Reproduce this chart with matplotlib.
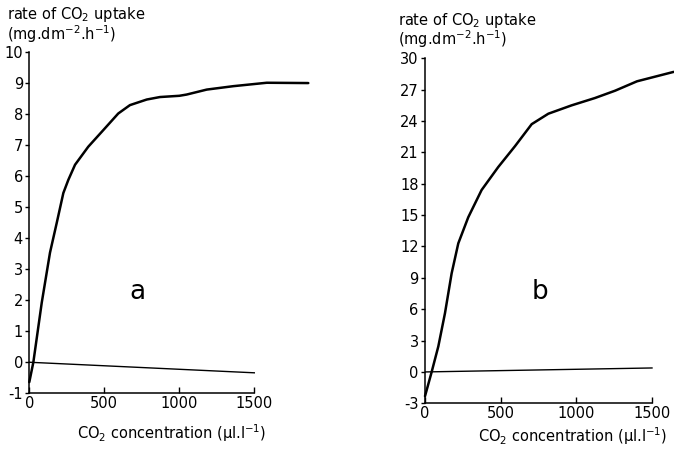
import matplotlib
matplotlib.use("Agg")
import matplotlib.pyplot as plt

# panel a: CO2 uptake vs CO2 concentration
conc_a = [0, 27, 83, 138, 183, 227, 260, 305, 393, 483, 593, 671, 783, 871,
          1000, 1049, 1183, 1360, 1583, 1860]
uptake_a = [-0.64, 0.0, 1.92, 3.53, 4.49, 5.45, 5.87, 6.36, 6.94, 7.42, 8.01,
            8.28, 8.46, 8.54, 8.58, 8.62, 8.78, 8.89, 9.0, 8.99]
zero_a_x = [0, 1500]
zero_a_y = [0.0, -0.34]

# panel b
conc_b = [0, 44, 88, 132, 176, 220, 286, 374, 484, 595, 705, 815, 969, 1123,
          1256, 1401, 1643]
uptake_b = [-2.32, 0.0, 2.44, 5.62, 9.43, 12.3, 14.8, 17.4, 19.6, 21.6, 23.7,
            24.7, 25.5, 26.2, 26.9, 27.8, 28.7]
zero_b_x = [0, 1500]
zero_b_y = [0.0, 0.38]

yticks_a = list(range(-1, 11))
yticks_b = list(range(-3, 31, 3))
xticks = [0, 500, 1000, 1500]

plt.rcParams.update({
    "font.family": "DejaVu Sans",
    "mathtext.default": "regular",
    "axes.unicode_minus": False,
    "font.size": 10.5,
})

W, H = 674, 449
fig = plt.figure(figsize=(W / 100, H / 100), dpi=100)

ax_a = fig.add_axes([29.3 / W, (H - 393.3) / H, 280.5 / W, 341.6 / H])
ax_b = fig.add_axes([425 / W, (H - 403.3) / H, 249.7 / W, 345 / H])

panels = [
    (ax_a, conc_a, uptake_a, zero_a_x, zero_a_y, yticks_a, (0, 1870), (-1, 10), "a",
     (0.384, 0.297), (0.509, -0.118)),
    (ax_b, conc_b, uptake_b, zero_b_x, zero_b_y, yticks_b, (0, 1650), (-3, 30), "b",
     (0.46, 0.323), (0.593, -0.095)),
]

for ax, xs, ys, zx, zy, yt, xl, yl, letter, lpos, xlpos in panels:
    ax.plot(xs, ys, color="black", lw=1.8, solid_capstyle="round",
            solid_joinstyle="round", clip_on=False)
    ax.plot(zx, zy, color="black", lw=1.0)
    ax.set_xlim(*xl)
    ax.set_ylim(*yl)
    ax.set_xticks(xticks)
    ax.set_yticks(yt)
    for s in ("top", "right"):
        ax.spines[s].set_visible(False)
    ax.spines["bottom"].set_bounds(0, 1500)
    ax.spines["left"].set_linewidth(1.1)
    ax.spines["bottom"].set_linewidth(1.1)
    ax.tick_params(axis="y", direction="out", length=3, width=1.0, pad=1.5,
                   labelsize=10.5)
    ax.tick_params(axis="x", direction="in", length=4, width=1.0, pad=2,
                   labelsize=10.5)
    ax.patch.set_visible(False)
    ax.text(*lpos, letter, transform=ax.transAxes, fontsize=19,
            ha="center", va="center")
    ax.text(*xlpos, "CO$_2$ concentration (µl.l$^{-1}$)", transform=ax.transAxes,
            fontsize=10.5, ha="center", va="center")

fig.text(7 / W, 1 - 5 / H, "rate of CO$_2$ uptake", ha="left", va="top",
         fontsize=10.5)
fig.text(7 / W, 1 - 23 / H, "(mg.dm$^{-2}$.h$^{-1}$)", ha="left", va="top",
         fontsize=10.5)
fig.text(398 / W, 1 - 11 / H, "rate of CO$_2$ uptake", ha="left", va="top",
         fontsize=10.5)
fig.text(398 / W, 1 - 28 / H, "(mg.dm$^{-2}$.h$^{-1}$)", ha="left", va="top",
         fontsize=10.5)

fig.savefig("out.png", dpi=100)
